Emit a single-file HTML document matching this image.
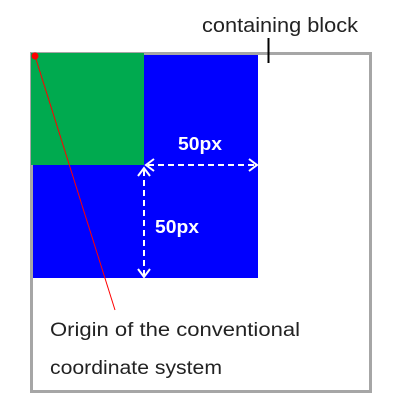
<!DOCTYPE html>
<html><head><style>body{margin:0;background:#fff}</style></head><body>
<svg width="400" height="400" xmlns="http://www.w3.org/2000/svg" font-family="Liberation Sans, DejaVu Sans, sans-serif">
<rect x="31.5" y="53.5" width="339" height="338" fill="none" stroke="#a6a6a6" stroke-width="3"/>
<rect x="33" y="55" width="225" height="223" fill="#0000ff"/>
<rect x="31" y="53" width="113" height="112" fill="#00aa4f"/>
<g stroke="#fff" stroke-width="2" fill="none">
<line x1="148" y1="165" x2="256" y2="165" stroke-dasharray="6,4"/>
<polyline points="154,159 146,165 154,171"/>
<polyline points="249,159 257,165 249,171"/>
<line x1="144" y1="170" x2="144" y2="275" stroke-dasharray="6,4"/>
<polyline points="138,176 144,168 150,176"/>
<polyline points="138,269 144,277 150,269"/>
</g>
<text x="178" y="150" fill="#fff" font-size="18" font-weight="bold" textLength="44" lengthAdjust="spacingAndGlyphs">50px</text>
<text x="155" y="233" fill="#fff" font-size="18" font-weight="bold" textLength="44" lengthAdjust="spacingAndGlyphs">50px</text>
<line x1="35" y1="56" x2="115" y2="310" stroke="red" stroke-width="1"/>
<circle cx="35" cy="56" r="3.5" fill="red"/>
<line x1="268.5" y1="38" x2="268.5" y2="63" stroke="#000" stroke-width="2"/>
<text x="202" y="32" fill="#222" font-size="20" textLength="156" lengthAdjust="spacingAndGlyphs">containing block</text>
<text x="50" y="336" fill="#222" font-size="19" textLength="250" lengthAdjust="spacingAndGlyphs">Origin of the conventional</text>
<text x="50" y="374" fill="#222" font-size="19" textLength="172" lengthAdjust="spacingAndGlyphs">coordinate system</text>
</svg>
</body></html>
